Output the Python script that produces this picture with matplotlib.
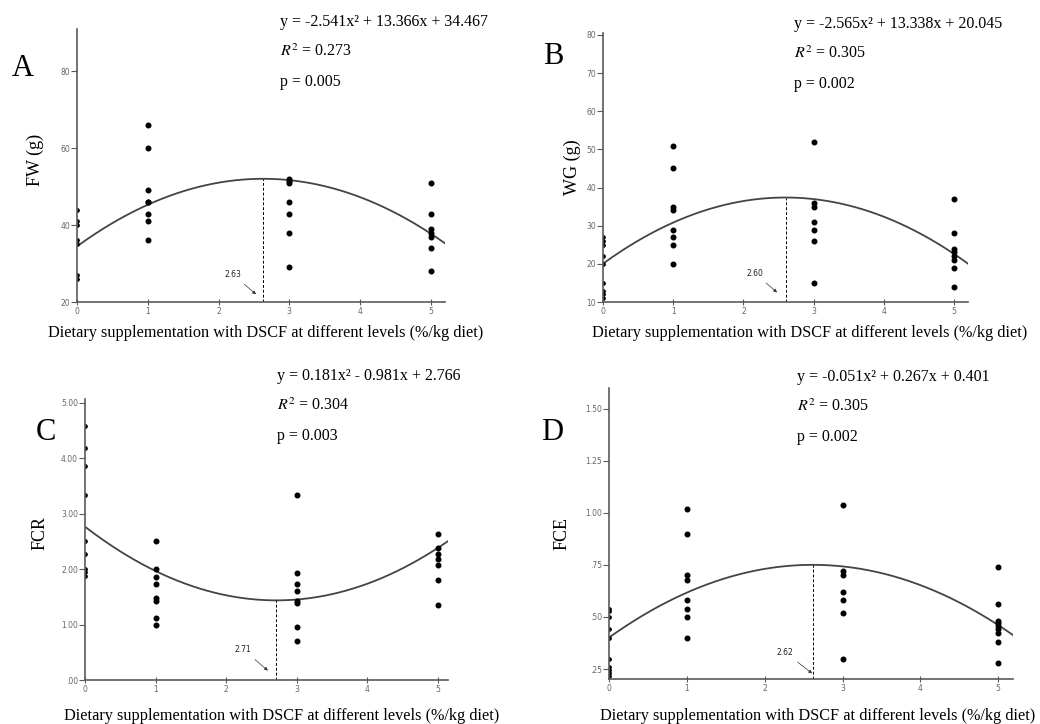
import numpy as np
import matplotlib
matplotlib.use("Agg")
import matplotlib.pyplot as plt

plt.rcParams['mathtext.fontset'] = 'stix'

xlabel = 'Dietary supplementation with DSCF at different levels (%/kg diet)'

# values, one list per dose level
fw_x = [0]*7 + [1]*8 + [3]*7 + [5]*7
fw_y = [44, 41, 40, 36, 35, 27, 26,
        66, 60, 49, 46, 46, 43, 41, 36,
        52, 51.5, 51, 46, 43, 38, 29,
        51, 43, 39, 38, 37, 34, 28]

wg_x = [0]*9 + [1]*8 + [3]*7 + [5]*8
wg_y = [27, 26, 25, 22, 20, 15, 13, 12, 11,
        51, 45, 35, 34, 29, 27, 25, 20,
        52, 36, 35, 31, 29, 26, 15,
        37, 28, 24, 23, 22, 21, 19, 14]

fcr_x = [0]*9 + [1]*8 + [3]*8 + [5]*7
fcr_y = [4.58, 4.19, 3.87, 3.34, 2.51, 2.27, 2.0, 1.95, 1.87,
         2.51, 2.0, 1.86, 1.73, 1.48, 1.43, 1.11, 0.99,
         3.34, 1.93, 1.73, 1.61, 1.43, 1.39, 0.96, 0.70,
         2.64, 2.39, 2.27, 2.18, 2.08, 1.80, 1.36]

fce_x = [0]*10 + [1]*8 + [3]*7 + [5]*9
fce_y = [0.54, 0.53, 0.50, 0.44, 0.40, 0.30, 0.26, 0.245, 0.23, 0.215,
         1.02, 0.90, 0.70, 0.68, 0.58, 0.54, 0.50, 0.40,
         1.04, 0.72, 0.70, 0.62, 0.58, 0.52, 0.30,
         0.74, 0.56, 0.48, 0.47, 0.457, 0.444, 0.423, 0.38, 0.28]

# quadratic fits (a, b, c) and the optimum dose
fits = [(-2.541, 13.366, 34.467), (-2.565, 13.338, 20.045),
        (0.181, -0.981, 2.766), (-0.051, 0.267, 0.401)]
optima = [2.63, 2.60, 2.71, 2.62]
eq_text = ['y = -2.541x² + 13.366x + 34.467', 'y = -2.565x² + 13.338x + 20.045',
           'y = 0.181x² - 0.981x + 2.766', 'y = -0.051x² + 0.267x + 0.401']
r2 = ['0.273', '0.305', '0.304', '0.305']
pvals = ['0.005', '0.002', '0.003', '0.002']
letters = ['A', 'B', 'C', 'D']
ylabels = ['FW (g)', 'WG (g)', 'FCR', 'FCE']

W, H = 1040, 724
fig = plt.figure(figsize=(W/100, H/100), dpi=100)

def rect(l, r, t, b):
    return [l/W, 1 - b/H, (r - l)/W, (b - t)/H]

panels = [
    dict(r=rect(77, 445, 29, 302), x=fw_x, y=fw_y, xlim=5.2, ylim=(20, 91),
         yt=[20, 40, 60, 80], ytl=['20', '40', '60', '80'],
         txt=(2.2, 27.2), tip=(2.53, 22.0)),
    dict(r=rect(603, 968, 33, 302), x=wg_x, y=wg_y, xlim=5.2, ylim=(10, 80.5),
         yt=[10, 20, 30, 40, 50, 60, 70, 80], ytl=['10', '20', '30', '40', '50', '60', '70', '80'],
         txt=(2.16, 17.6), tip=(2.48, 12.5)),
    dict(r=rect(85, 448, 399, 680), x=fcr_x, y=fcr_y, xlim=5.14, ylim=(0, 5.07),
         yt=[0, 1, 2, 3, 4, 5], ytl=['.00', '1.00', '2.00', '3.00', '4.00', '5.00'],
         txt=(2.24, 0.55), tip=(2.59, 0.17)),
    dict(r=rect(609, 1013, 388, 679), x=fce_x, y=fce_y, xlim=5.19, ylim=(0.202, 1.6),
         yt=[0.25, 0.5, 0.75, 1.0, 1.25, 1.5], ytl=['.25', '.50', '.75', '1.00', '1.25', '1.50'],
         txt=(2.26, 0.33), tip=(2.61, 0.229)),
]

serif = 'Liberation Serif'
spine_c = '#5a5a5a'

for i, p in enumerate(panels):
    ax = fig.add_axes(p['r'])
    a, b, c = fits[i]
    xs = np.linspace(0, p['xlim'], 200)
    ax.plot(xs, a*xs**2 + b*xs + c, color='#444444', lw=1.3)
    px = np.array(p['x'])
    py = np.array(p['y'])
    on_axis = px == 0
    ax.plot(px[~on_axis], py[~on_axis], 'o', color='black', ms=3.3)
    ax.plot(px[on_axis], py[on_axis], 'o', color='black', ms=2.4)
    xo = optima[i]
    yo = a*xo**2 + b*xo + c
    ax.plot([xo, xo], [p['ylim'][0], yo], color='black', lw=0.7, dashes=(3, 2))
    ax.annotate(f'{xo:.2f}', xy=p['tip'], xytext=p['txt'], ha='center', va='center',
                fontsize=5.5, color='#222222',
                arrowprops=dict(arrowstyle='-|>', lw=0.5, color='#333333',
                                mutation_scale=5, shrinkA=3, shrinkB=0))
    ax.set_xlim(0, p['xlim'])
    ax.set_ylim(*p['ylim'])
    ax.set_xticks([0, 1, 2, 3, 4, 5])
    ax.set_yticks(p['yt'])
    ax.set_yticklabels(p['ytl'])
    for s in ['top', 'right']:
        ax.spines[s].set_visible(False)
    for s in ['left', 'bottom']:
        ax.spines[s].set_color(spine_c)
        ax.spines[s].set_linewidth(1.2)
    ax.tick_params(axis='y', direction='out', length=4, width=0.8, colors=spine_c,
                   labelsize=5.5, pad=1, labelcolor='#666666')
    ax.tick_params(axis='x', direction='inout', length=5, width=0.8, colors=spine_c,
                   labelsize=5.5, pad=1, labelcolor='#666666')

# annotation text in figure pixels
letter_pos = [(23, 69), (553, 57), (46, 433), (552, 433)]
eq_pos = [(280, 22), (794, 24), (277, 376), (797, 377)]
ylab_pos = [(35, 160), (572, 167), (40, 533), (562, 533)]
xlab_pos = [(266, 333), (810, 333), (282, 716), (818, 716)]

def fx(x):
    return x / W

def fy(y):
    return 1 - y / H

for i in range(4):
    lx, ly = letter_pos[i]
    fig.text(fx(lx), fy(ly), letters[i], family=serif, fontsize=22, ha='center', va='center')
    ex, ey = eq_pos[i]
    fig.text(fx(ex), fy(ey), eq_text[i], family=serif, fontsize=11.5, ha='left', va='center')
    fig.text(fx(ex), fy(ey + 30), r'$\mathit{R}^{2}$' + ' = ' + r2[i], family=serif,
             fontsize=11.5, ha='left', va='center')
    fig.text(fx(ex), fy(ey + 60), 'p = ' + pvals[i], family=serif, fontsize=11.5,
             ha='left', va='center')
    yx, yy = ylab_pos[i]
    fig.text(fx(yx), fy(yy), ylabels[i], family=serif, fontsize=13, rotation=90,
             ha='center', va='center')
    xx, xy = xlab_pos[i]
    fig.text(fx(xx), fy(xy), xlabel, family=serif, fontsize=11.7, ha='center', va='center')

fig.savefig('out.png', dpi=100)
